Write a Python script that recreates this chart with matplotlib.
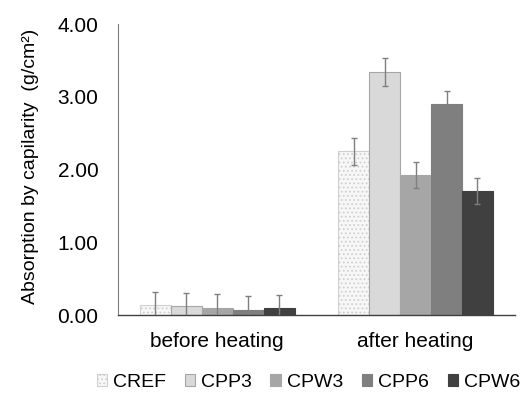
import matplotlib
matplotlib.use("Agg")
import matplotlib.pyplot as plt
import numpy as np

plt.rcParams['font.family'] = ['Liberation Sans', 'DejaVu Sans']
plt.rcParams['hatch.color'] = '#c8c8c8'
plt.rcParams['hatch.linewidth'] = 0.8

categories = ["before heating", "after heating"]
series = ["CREF", "CPP3", "CPW3", "CPP6", "CPW6"]
values = {
    "CREF": [0.14, 2.25],
    "CPP3": [0.12, 3.34],
    "CPW3": [0.10, 1.92],
    "CPP6": [0.07, 2.90],
    "CPW6": [0.09, 1.71],
}
errors = {
    "CREF": [0.18, 0.19],
    "CPP3": [0.18, 0.19],
    "CPW3": [0.19, 0.18],
    "CPP6": [0.19, 0.18],
    "CPW6": [0.18, 0.18],
}
colors = ["#f7f7f7", "#d9d9d9", "#a6a6a6", "#7f7f7f", "#404040"]
edges = ["#d0d0d0", "#a6a6a6", "#a6a6a6", "#7f7f7f", "#404040"]
hatches = ["....", None, None, None, None]

fig = plt.figure(figsize=(5.21, 3.94), dpi=100)
ax = fig.add_axes([0.2265, 0.2005, 0.7615, 0.7385])

x = np.arange(len(categories))
group_w = 0.78
bw = group_w / len(series)
for i, s in enumerate(series):
    pos = x - group_w / 2 + bw * (i + 0.5)
    ax.bar(pos, values[s], width=bw, color=colors[i], edgecolor=edges[i],
           linewidth=0.8, hatch=hatches[i], label=s, zorder=2)
    ax.errorbar(pos, values[s], yerr=errors[s], fmt='none', ecolor='#7f7f7f',
                elinewidth=1.0, capsize=2.5, capthick=1.0, zorder=3)

ax.set_xlim(-0.5, 1.5)
ax.set_ylim(0, 4)
ax.set_yticks([0, 1, 2, 3, 4])
ax.set_yticklabels([f"{v:.2f}" for v in [0, 1, 2, 3, 4]], fontsize=15, color='#000000')
ax.set_xticks(x)
ax.set_xticklabels(categories, fontsize=15)
ax.tick_params(axis='x', length=0, pad=12)
ax.tick_params(axis='y', length=0, pad=14)
for sp in ['top', 'right']:
    ax.spines[sp].set_visible(False)
ax.spines['left'].set_color('#7f7f7f')
ax.spines['bottom'].set_color('#404040')
ax.spines['left'].set_linewidth(0.8)
ax.spines['bottom'].set_linewidth(1.0)

ax.set_ylabel("Absorption by capilarity  (g/cm²)", fontsize=14)
ax.yaxis.set_label_coords(-0.2, 0.512)

leg = fig.legend(loc='center', bbox_to_anchor=(0.592, 0.03), ncol=5, frameon=False,
                 fontsize=14, handlelength=0.55, handleheight=0.55,
                 handletextpad=0.3, columnspacing=0.95)

fig.savefig("out.png", dpi=100)
